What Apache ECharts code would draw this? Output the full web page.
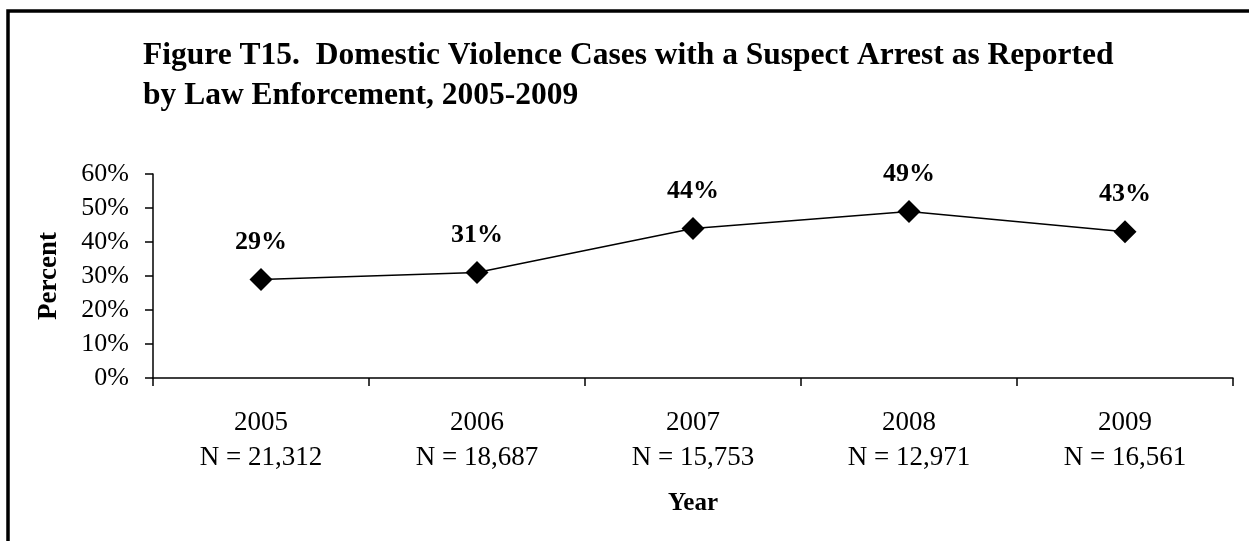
<!DOCTYPE html>
<html>
<head>
<meta charset="utf-8">
<script src="https://cdn.jsdelivr.net/npm/echarts@6/dist/echarts.min.js"></script>
<style>
html,body{margin:0;padding:0;background:#fff;}
#chart{width:1249px;height:541px;}
</style>
</head>
<body>
<div id="chart"></div>
<script>
const years = ['2005', '2006', '2007', '2008', '2009'];
const sampleSizes = ['21,312', '18,687', '15,753', '12,971', '16,561'];
const percentArrested = [29, 31, 44, 49, 43];
const yTicks = [0, 10, 20, 30, 40, 50, 60];

const FONT = '"Liberation Serif", "Times New Roman", serif';
const chart = echarts.init(document.getElementById('chart'));
const categories = years.map((y, i) => y + '\nN = ' + sampleSizes[i]);

chart.setOption({
  backgroundColor: '#fff',
  animation: false,
  graphic: [{
    type: 'rect',
    shape: { x: 8, y: 11, width: 1400, height: 700 },
    style: { fill: 'none', stroke: '#000', lineWidth: 3.5 },
    silent: true
  }],
  title: {
    text: 'Figure T15.  Domestic Violence Cases with a Suspect Arrest as Reported\nby Law Enforcement, 2005-2009',
    left: 143,
    top: 36,
    padding: 0,
    textStyle: { fontFamily: FONT, fontWeight: 'bold', fontSize: 31.5, lineHeight: 40, color: '#000' }
  },
  grid: { left: 153, right: 16, top: 174, bottom: 163, containLabel: false },
  xAxis: {
    type: 'category',
    data: categories,
    boundaryGap: true,
    name: 'Year',
    nameLocation: 'middle',
    nameGap: 113,
    nameTextStyle: { fontFamily: FONT, fontWeight: 'bold', fontSize: 25, color: '#000' },
    axisLine: { lineStyle: { color: '#000', width: 1.5 } },
    axisTick: { show: true, length: 8, lineStyle: { color: '#000', width: 1.5 } },
    axisLabel: { fontFamily: FONT, fontSize: 27, lineHeight: 35, color: '#000', margin: 27, interval: 0 },
    splitLine: { show: false }
  },
  yAxis: {
    type: 'value',
    min: yTicks[0],
    max: yTicks[yTicks.length - 1],
    interval: yTicks[1] - yTicks[0],
    name: 'Percent',
    nameLocation: 'middle',
    nameGap: 90,
    nameRotate: 90,
    nameTextStyle: { fontFamily: FONT, fontWeight: 'bold', fontSize: 27, color: '#000' },
    axisLine: { show: true, lineStyle: { color: '#000', width: 1.5 } },
    axisTick: { show: true, length: 8, lineStyle: { color: '#000', width: 1.5 } },
    axisLabel: { fontFamily: FONT, fontSize: 26, color: '#000', margin: 24, formatter: '{value}%' },
    splitLine: { show: false }
  },
  series: [{
    type: 'line',
    data: percentArrested,
    symbol: 'diamond',
    symbolSize: 23,
    itemStyle: { color: '#000' },
    lineStyle: { color: '#000', width: 1.5 },
    label: {
      show: true,
      position: 'top',
      distance: 13,
      formatter: '{c}%',
      fontFamily: FONT,
      fontWeight: 'bold',
      fontSize: 26,
      color: '#000'
    }
  }]
});
</script>
</body>
</html>
